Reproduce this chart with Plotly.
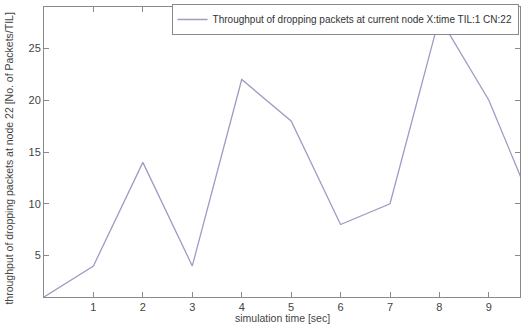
import plotly.graph_objects as go

time_sec = [0, 1, 2, 3, 4, 5, 6, 7, 8, 9, 10]
dropped = [1, 4, 14, 4, 22, 18, 8, 10, 28, 20, 8.5]
x_ticks = [1, 2, 3, 4, 5, 6, 7, 8, 9]
y_ticks = [5, 10, 15, 20, 25]

line_color = "#9c9cc4"
axis_color = "#8a8a8a"
font_family = "Liberation Sans, Arial, sans-serif"

fig = go.Figure()
fig.add_trace(go.Scatter(
    x=time_sec, y=dropped, mode="lines",
    line=dict(color=line_color, width=1.3),
    name="Throughput of dropping packets at current node X:time TIL:1 CN:22",
))

axis_common = dict(
    showgrid=False, zeroline=False, showline=True, linecolor=axis_color, linewidth=1,
    mirror="ticks", ticks="inside", ticklen=5, tickcolor=axis_color,
    tickfont=dict(size=11, color="#444", family=font_family),
)

fig.update_layout(
    width=521, height=327,
    margin=dict(l=44, r=1, t=7, b=30),
    paper_bgcolor="white", plot_bgcolor="white",
    font=dict(family=font_family, color="#444"),
    showlegend=True,
    legend=dict(
        x=0.997, xanchor="right", y=1.0103, yanchor="top",
        bgcolor="white", bordercolor=axis_color, borderwidth=1,
        font=dict(size=10, color="#333", family=font_family),
        tracegroupgap=0,
    ),
    xaxis=dict(range=[0, 9.63], tickvals=x_ticks, **axis_common),
    yaxis=dict(range=[1, 29], tickvals=y_ticks, **axis_common),
    annotations=[
        dict(text="simulation time [sec]", xref="paper", yref="paper",
             x=0.5, y=-0.046, xanchor="center", yanchor="top", showarrow=False,
             font=dict(size=10.5, color="#444", family=font_family)),
        dict(text="throughput of dropping packets at node 22 [No. of Packets/TIL]",
             xref="paper", yref="paper", x=-0.074, y=0.48, xanchor="center", yanchor="middle",
             textangle=-90, showarrow=False,
             font=dict(size=10.5, color="#444", family=font_family)),
    ],
)

fig.write_html("out.html", config={"displayModeBar": False},
               post_script="document.body.style.margin='0px';")
